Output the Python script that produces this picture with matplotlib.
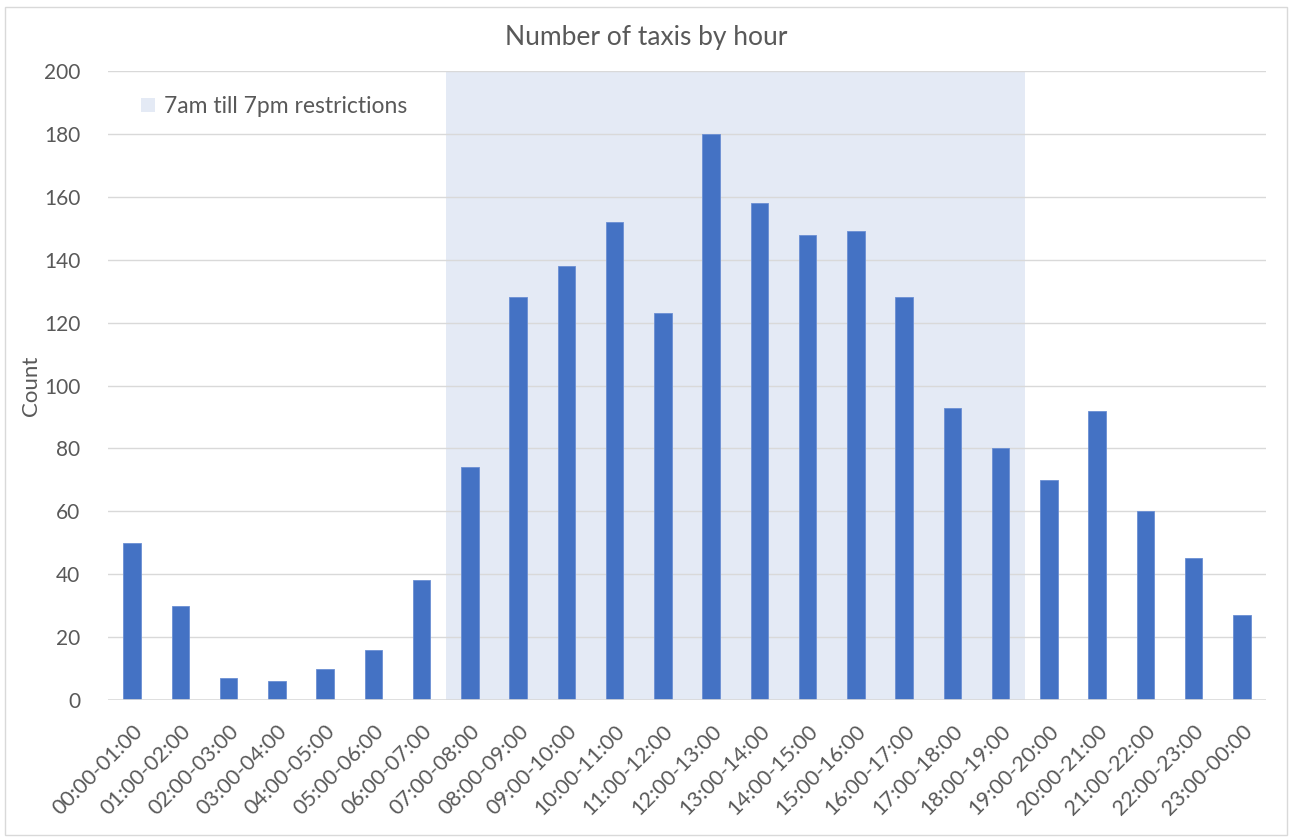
import matplotlib.pyplot as plt
from matplotlib.patches import Rectangle

plt.rcParams['font.family'] = ['Lato', 'DejaVu Sans']

hours = ['00:00-01:00', '01:00-02:00', '02:00-03:00', '03:00-04:00', '04:00-05:00',
         '05:00-06:00', '06:00-07:00', '07:00-08:00', '08:00-09:00', '09:00-10:00',
         '10:00-11:00', '11:00-12:00', '12:00-13:00', '13:00-14:00', '14:00-15:00',
         '15:00-16:00', '16:00-17:00', '17:00-18:00', '18:00-19:00', '19:00-20:00',
         '20:00-21:00', '21:00-22:00', '22:00-23:00', '23:00-00:00']
taxis = [50, 30, 7, 6, 10, 16, 38, 74, 128, 138, 152, 123, 180, 158, 148, 149,
         128, 93, 80, 70, 92, 60, 45, 27]
# restriction window shown as a full-height band behind the counts
restricted = [0, 0, 0, 0, 0, 0, 0, 200, 200, 200, 200, 200, 200, 200, 200, 200,
              200, 200, 200, 0, 0, 0, 0, 0]

text_col = '#595959'
grid_col = '#d9d9d9'

fig = plt.figure(figsize=(12.92, 8.40), dpi=100)
fig.patches.append(Rectangle((0.004, 0.006), 0.992, 0.986, transform=fig.transFigure,
                             fill=False, edgecolor='#d9d9d9', linewidth=1.0))
ax = fig.add_axes([108 / 1292, 1 - 700 / 840, (1266 - 108) / 1292, (700 - 71) / 840])

x = list(range(len(hours)))
ax.bar(x, restricted, width=1.0, color='#e4eaf5', zorder=0,
       label='7am till 7pm restrictions')
for y in range(20, 201, 20):
    ax.axhline(y, color=grid_col, linewidth=1.0, zorder=1)
ax.bar(x, taxis, width=0.36, color='#4472c4', edgecolor='#6b8fd3', linewidth=0.6, zorder=2)
ax.axhline(0, color=grid_col, linewidth=1.2, zorder=3)

ax.set_xlim(-0.5, len(hours) - 0.5)
ax.set_ylim(0, 200)
ax.set_yticks(range(0, 201, 20))
ax.set_xticks(x)
ax.set_xticklabels(hours, rotation=45, ha='right', rotation_mode='anchor')
ax.tick_params(axis='both', length=0, colors=text_col)
ax.tick_params(axis='x', pad=15, labelsize=15.5)
ax.tick_params(axis='y', pad=20, labelsize=15)
for s in ax.spines.values():
    s.set_visible(False)

ax.set_ylabel('Count', fontsize=16, color=text_col, labelpad=2)
# title centred on the whole chart area, not the plot area
fig.text(0.5, 1 - 38 / 840, 'Number of taxis by hour', fontsize=19, color=text_col,
         ha='center', va='center')

leg = ax.legend(loc='upper left', bbox_to_anchor=(0.011, 0.993), frameon=False,
                fontsize=16.5, handlelength=0.6, handleheight=0.6, handletextpad=0.4)
for t in leg.get_texts():
    t.set_color(text_col)

fig.savefig('out.png', dpi=100)
